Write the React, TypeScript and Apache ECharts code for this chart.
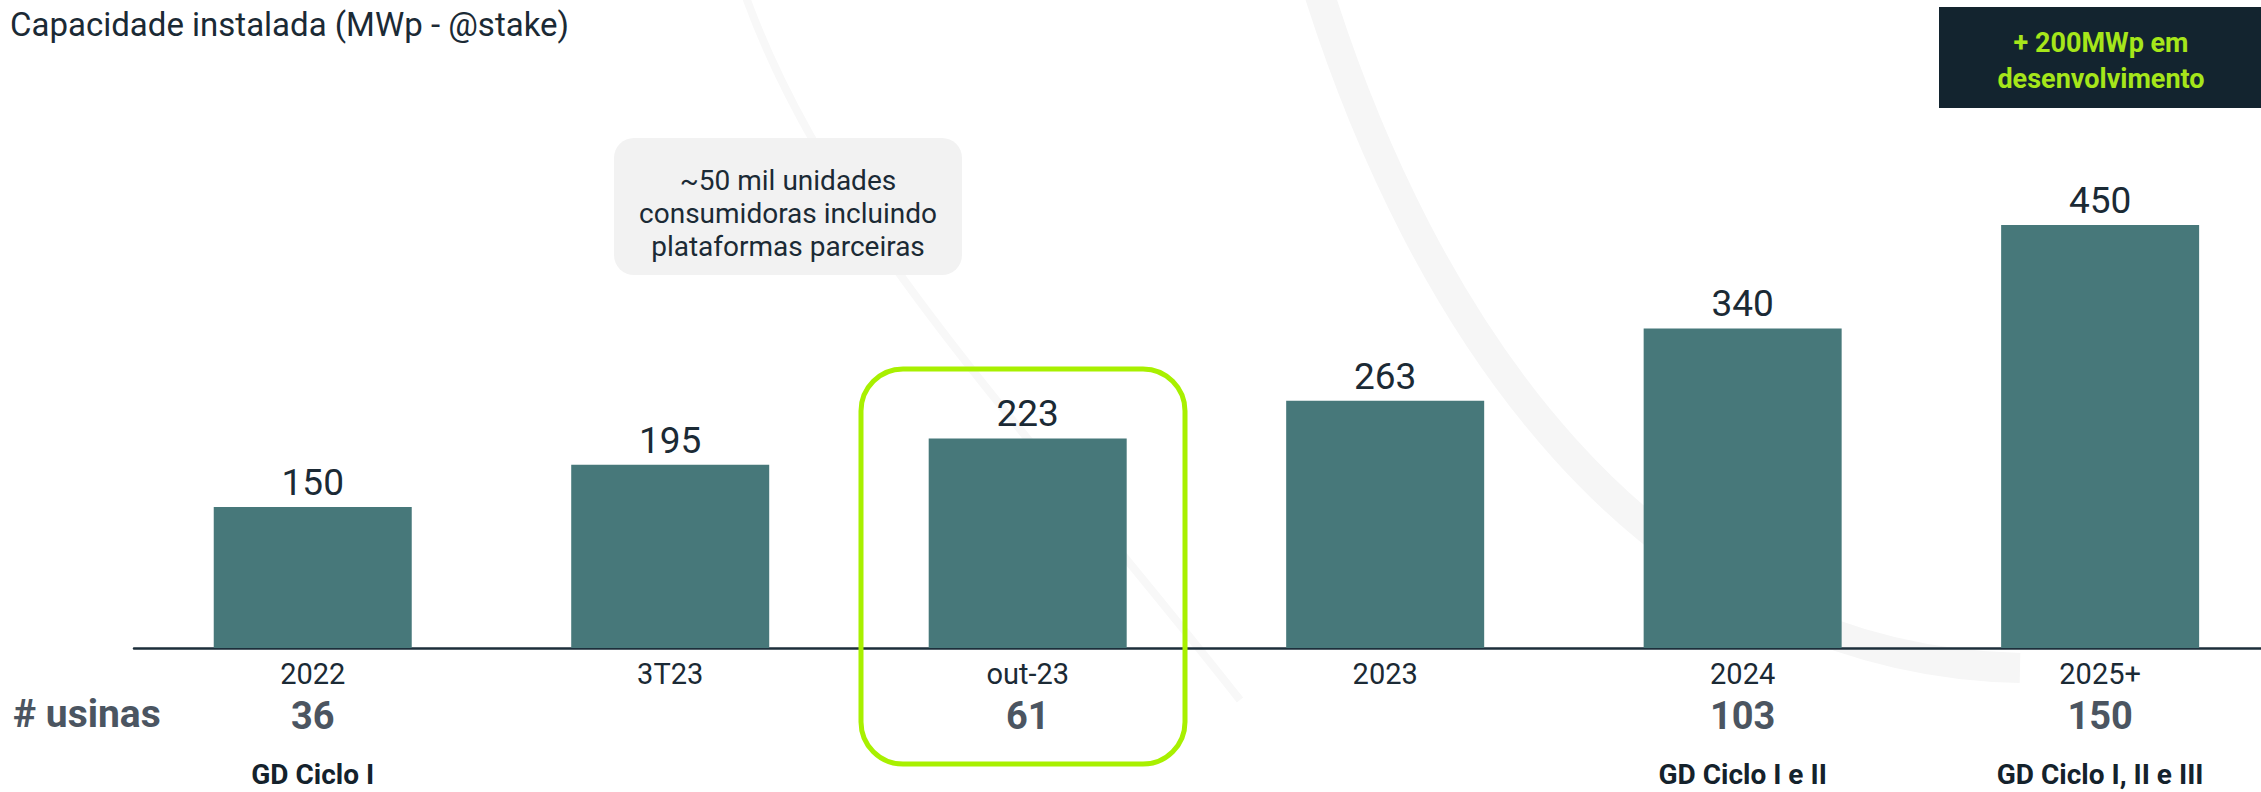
import React, { useEffect, useRef } from "react";
import * as echarts from "echarts";

const categories = ["2022", "3T23", "out-23", "2023", "2024", "2025+"];
const capacity = [150, 195, 223, 263, 340, 450];
const usinas = ["36", "", "61", "", "103", "150"];
const cycles = ["GD Ciclo I", "", "", "", "GD Ciclo I e II", "GD Ciclo I, II e III"];

const subtitle = "Capacidade instalada (MWp - @stake)";
const devNote = "+ 200MWp em\ndesenvolvimento";
const unitsNote = "~50 mil unidades\nconsumidoras incluindo\nplataformas parceiras";
const rowLabel = "# usinas";

const FONT = "Roboto, 'Noto Sans', sans-serif";
const DARK = "#1b2a35";

export default function App() {
  const ref = useRef<HTMLDivElement>(null);
  useEffect(() => {
    if (!ref.current) return;
    const chart = echarts.init(ref.current, null, { renderer: "svg" });
    const positions = categories.map((_, i) => i);
    const baseAxis = {
      type: "value" as const,
      min: -0.5,
      max: 5.45,
      position: "bottom" as const,
      axisTick: { show: false },
      splitLine: { show: false },
    };
    chart.setOption({
      animation: false,
      backgroundColor: "#ffffff",
      textStyle: { fontFamily: FONT },
      grid: { left: 134, right: 0, top: 84, bottom: 144, containLabel: false },
      xAxis: [
        {
          ...baseAxis,
          axisLine: { show: true, lineStyle: { color: "#1c2e3a", width: 2.5 } },
          axisLabel: {
            customValues: positions,
            margin: 11,
            fontSize: 29,
            color: DARK,
            fontFamily: FONT,
            formatter: (v: number) => categories[Math.round(v)] ?? "",
          },
        },
        {
          ...baseAxis,
          offset: 39,
          axisLine: { show: false },
          axisLabel: {
            customValues: positions,
            margin: 10,
            fontSize: 38,
            fontWeight: "bold",
            color: "#4b5561",
            fontFamily: FONT,
            formatter: (v: number) => usinas[Math.round(v)] ?? "",
          },
        },
        {
          ...baseAxis,
          offset: 102,
          axisLine: { show: false },
          axisLabel: {
            customValues: positions,
            margin: 10,
            fontSize: 28,
            fontWeight: "bold",
            color: "#14222c",
            fontFamily: FONT,
            formatter: (v: number) => cycles[Math.round(v)] ?? "",
          },
        },
      ],
      yAxis: {
        type: "value",
        min: 0,
        max: 600,
        show: false,
        splitLine: { show: false },
      },
      series: [
        {
          type: "bar",
          xAxisIndex: 0,
          data: capacity.map((v, i) => [i, v]),
          barWidth: 198,
          itemStyle: { color: "#47787a" },
          label: {
            show: true,
            position: "top",
            distance: 6,
            fontSize: 37,
            color: DARK,
            fontFamily: FONT,
            formatter: (p: any) => String(p.value[1]),
          },
        },
      ],
      graphic: [
        {
          type: "bezierCurve",
          shape: { x1: 1315, y1: -20, x2: 2020, y2: 668, cpx1: 1420, cpy1: 320, cpx2: 1640, cpy2: 660 },
          style: { stroke: "#f6f6f6", lineWidth: 30, fill: "none" },
          z: -10,
        },
        {
          type: "bezierCurve",
          shape: { x1: 740, y1: -20, x2: 1240, y2: 700, cpx1: 820, cpy1: 220, cpx2: 1020, cpy2: 420 },
          style: { stroke: "#f8f8f8", lineWidth: 8, fill: "none" },
          z: -10,
        },
        {
          type: "text",
          left: 10,
          top: 8,
          style: { text: subtitle, fontSize: 33, fill: DARK, fontFamily: FONT },
        },
        {
          type: "text",
          left: 13,
          top: 694,
          style: { text: rowLabel, fontSize: 39, fontWeight: "bold", fill: "#4b5561", fontFamily: FONT },
        },
        {
          type: "rect",
          shape: { x: 1939, y: 7, width: 330, height: 101 },
          style: { fill: "#13242f" },
        },
        {
          type: "text",
          x: 2101,
          y: 61,
          style: {
            text: devNote,
            fontSize: 27,
            fontWeight: "bold",
            fill: "#a6e61a",
            fontFamily: FONT,
            align: "center",
            verticalAlign: "middle",
            lineHeight: 36,
          },
        },
        {
          type: "rect",
          shape: { x: 614, y: 138, width: 348, height: 137, r: 20 },
          style: { fill: "#f2f2f2" },
        },
        {
          type: "text",
          x: 788,
          y: 213,
          style: {
            text: unitsNote,
            fontSize: 28,
            fill: DARK,
            fontFamily: FONT,
            align: "center",
            verticalAlign: "middle",
            lineHeight: 33,
          },
        },
        {
          type: "rect",
          shape: { x: 861, y: 369, width: 324, height: 395, r: 42 },
          style: { fill: "none", stroke: "#a8f000", lineWidth: 5 },
          z: 10,
        },
      ],
    });
    return () => chart.dispose();
  }, []);
  return (
    <div
      ref={ref}
      style={{ position: "fixed", left: 0, top: 0, width: 2261, height: 792 }}
    />
  );
}
